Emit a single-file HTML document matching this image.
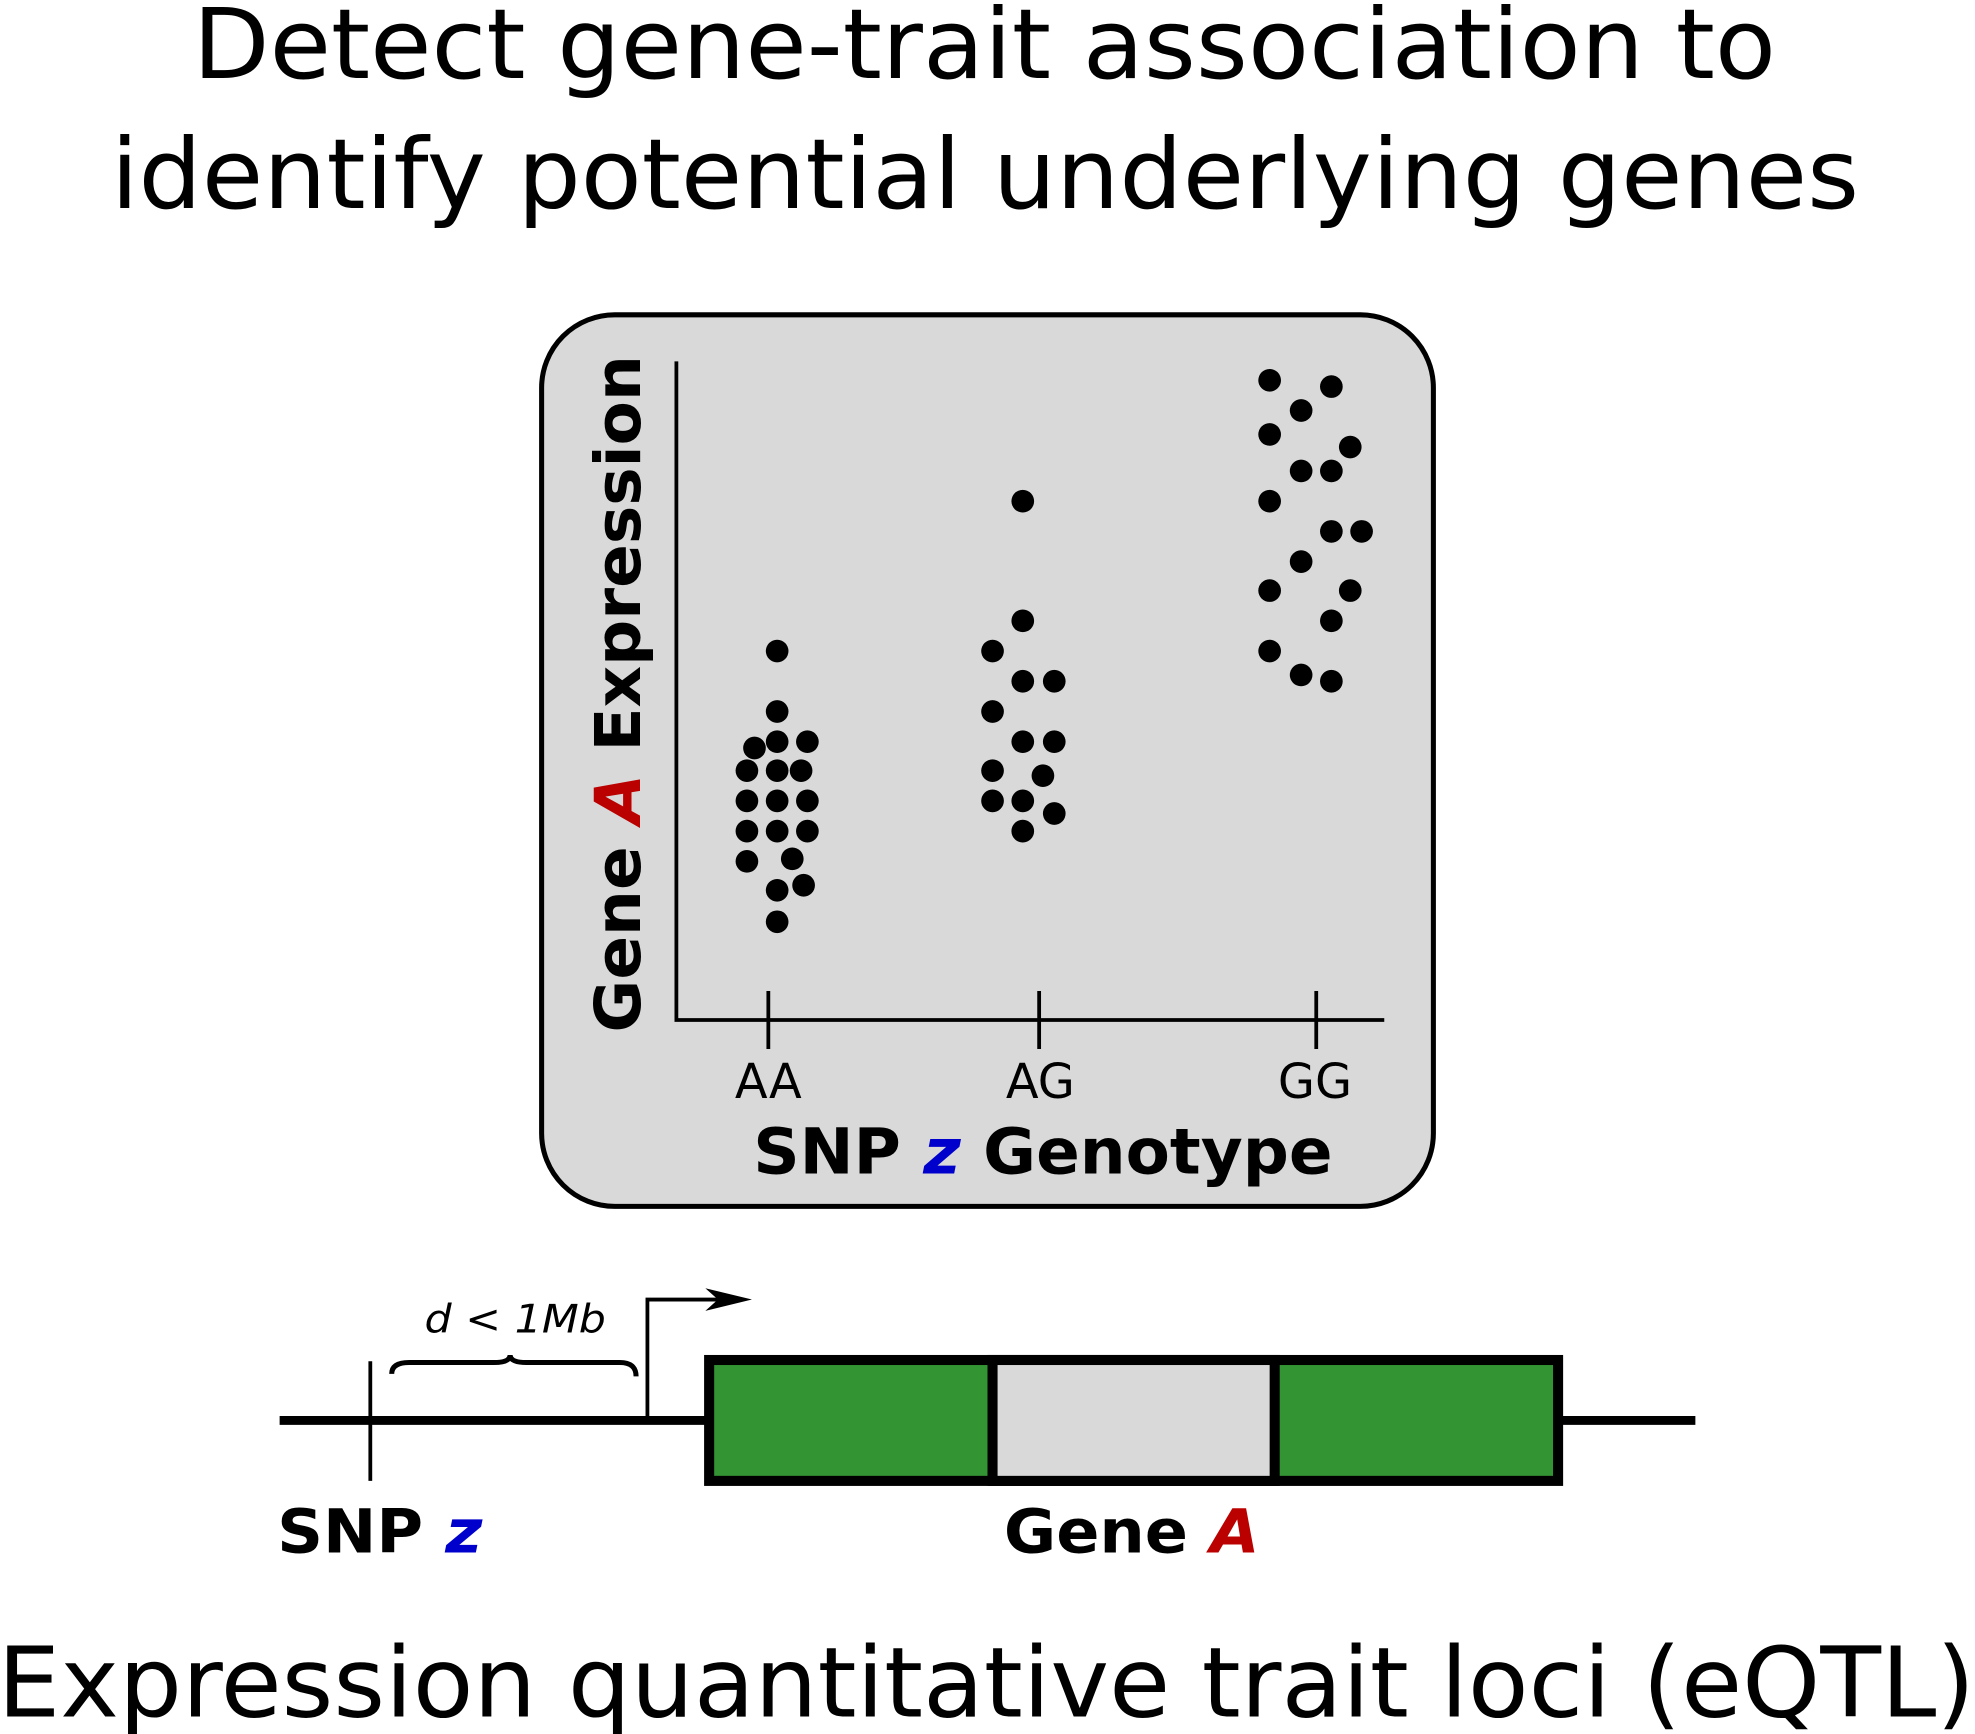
<!DOCTYPE html>
<html><head><meta charset="utf-8"><style>
html,body{margin:0;padding:0;background:#fff;}
svg{display:block;}
text{font-family:"DejaVu Sans","Liberation Sans",sans-serif;}
</style></head><body>
<svg width="1975" height="1734" viewBox="0 0 1568 1377" preserveAspectRatio="none" xmlns="http://www.w3.org/2000/svg">
<text x="153" y="62" font-size="77" textLength="1257" lengthAdjust="spacingAndGlyphs">Detect gene-trait association to</text>
<text x="88" y="165" font-size="77" textLength="1388" lengthAdjust="spacingAndGlyphs">identify potential underlying genes</text>

<rect x="430" y="250" width="708" height="708" rx="58" ry="58" fill="#d9d9d9" stroke="#000" stroke-width="4"/>
<path d="M537 287 V810 H1099" fill="none" stroke="#000" stroke-width="3"/>
<path d="M610 787 V833 M825 787 V833 M1045 787 V833" stroke="#000" stroke-width="3"/>
<text x="610" y="872" font-size="38" text-anchor="middle">AA</text>
<text x="826" y="872" font-size="38" text-anchor="middle">AG</text>
<text x="1044" y="872" font-size="38" text-anchor="middle">GG</text>
<text x="598" y="932" font-size="50" font-weight="bold" textLength="460" lengthAdjust="spacingAndGlyphs">SNP <tspan fill="#0000cc" font-style="italic">z</tspan> Genotype</text>
<text transform="translate(508,820) rotate(-90)" font-size="50" font-weight="bold" textLength="538" lengthAdjust="spacingAndGlyphs">Gene <tspan fill="#bb0000" font-style="italic">A</tspan> Expression</text>

<g fill="#000">
<circle cx="617" cy="517" r="9"/><circle cx="617" cy="565" r="9"/><circle cx="599" cy="594" r="9"/><circle cx="617" cy="589" r="9"/><circle cx="641" cy="589" r="9"/><circle cx="593" cy="612" r="9"/><circle cx="617" cy="612" r="9"/><circle cx="636" cy="612" r="9"/><circle cx="593" cy="636" r="9"/><circle cx="617" cy="636" r="9"/><circle cx="641" cy="636" r="9"/><circle cx="593" cy="660" r="9"/><circle cx="617" cy="660" r="9"/><circle cx="641" cy="660" r="9"/><circle cx="593" cy="684" r="9"/><circle cx="629" cy="682" r="9"/><circle cx="617" cy="707" r="9"/><circle cx="638" cy="703" r="9"/><circle cx="617" cy="732" r="9"/>
<circle cx="812" cy="398" r="9"/><circle cx="812" cy="493" r="9"/><circle cx="788" cy="517" r="9"/><circle cx="812" cy="541" r="9"/><circle cx="837" cy="541" r="9"/><circle cx="788" cy="565" r="9"/><circle cx="812" cy="589" r="9"/><circle cx="837" cy="589" r="9"/><circle cx="788" cy="612" r="9"/><circle cx="828" cy="616" r="9"/><circle cx="788" cy="636" r="9"/><circle cx="812" cy="636" r="9"/><circle cx="837" cy="646" r="9"/><circle cx="812" cy="660" r="9"/>
<circle cx="1008" cy="302" r="9"/><circle cx="1057" cy="307" r="9"/><circle cx="1033" cy="326" r="9"/><circle cx="1008" cy="345" r="9"/><circle cx="1072" cy="355" r="9"/><circle cx="1033" cy="374" r="9"/><circle cx="1057" cy="374" r="9"/><circle cx="1008" cy="398" r="9"/><circle cx="1057" cy="422" r="9"/><circle cx="1081" cy="422" r="9"/><circle cx="1033" cy="446" r="9"/><circle cx="1008" cy="469" r="9"/><circle cx="1072" cy="469" r="9"/><circle cx="1057" cy="493" r="9"/><circle cx="1008" cy="517" r="9"/><circle cx="1033" cy="536" r="9"/><circle cx="1057" cy="541" r="9"/>
</g>

<path d="M222 1128 H1346" stroke="#000" stroke-width="7"/>
<rect x="563" y="1080" width="674" height="96" fill="#339433" stroke="#000" stroke-width="8"/>
<rect x="788" y="1080" width="224" height="96" fill="#d9d9d9" stroke="#000" stroke-width="8"/>
<path d="M294 1081 V1176" stroke="#000" stroke-width="3"/>
<path d="M514 1128 V1032 H582" fill="none" stroke="#000" stroke-width="3"/>
<path d="M597 1032 L560 1023 L570 1032 L560 1041 Z" fill="#000"/>
<path d="M311 1091 Q311 1082 325 1082 H392 Q405 1082 405 1076 Q405 1082 418 1082 H492 Q505 1082 505 1093" fill="none" stroke="#000" stroke-width="4"/>
<text x="337" y="1058" font-size="31" font-style="italic" textLength="144" lengthAdjust="spacingAndGlyphs">d &lt; 1Mb</text>
<text x="220" y="1233" font-size="48" font-weight="bold" textLength="163" lengthAdjust="spacingAndGlyphs">SNP <tspan fill="#0000cc" font-style="italic">z</tspan></text>
<text x="797" y="1233" font-size="48" font-weight="bold" textLength="203" lengthAdjust="spacingAndGlyphs">Gene <tspan fill="#bb0000" font-style="italic">A</tspan></text>

<text x="-2" y="1363" font-size="77" textLength="1570" lengthAdjust="spacingAndGlyphs">Expression quantitative trait loci (eQTL)</text>
</svg>
</body></html>
